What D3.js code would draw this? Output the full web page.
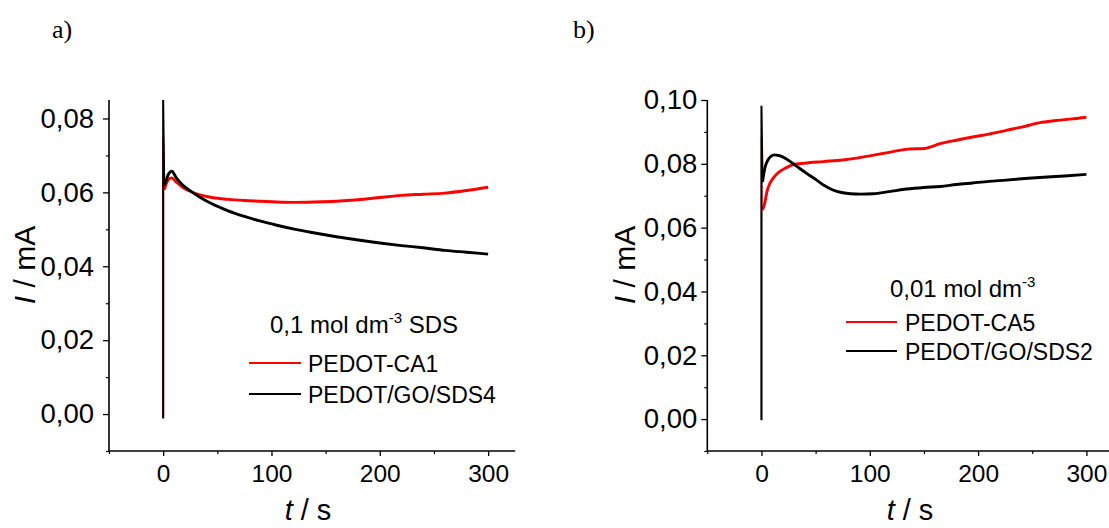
<!DOCTYPE html>
<html>
<head>
<meta charset="utf-8">
<script src="https://cdn.jsdelivr.net/npm/d3@7"></script>
<style>
  html, body { margin: 0; padding: 0; background: #fff; }
  svg { display: block; }
  text { fill: #000; }
</style>
</head>
<body>
<svg id="chart" width="1109" height="528"></svg>
<script>
// ---------- DATA ----------
// Panel a) 0,1 mol dm-3 SDS
const tA_red   = [0, 0, 1, 3, 5, 8, 12, 18, 25, 34, 45, 60, 75, 90, 105, 120, 140, 160, 180, 200, 220, 240, 260, 280, 300];
const iA_red   = [-0.0010, 0.0748, 0.0607, 0.0625, 0.0635, 0.0639, 0.0628, 0.0614, 0.0603, 0.0593, 0.0586, 0.0581, 0.0578, 0.0576, 0.0574, 0.0573, 0.0574, 0.0576, 0.0580, 0.0586, 0.0592, 0.0595, 0.0598, 0.0605, 0.0614];
const tA_black = [0, 0, 1, 3, 5, 8, 12, 18, 25, 34, 45, 60, 75, 90, 105, 120, 140, 160, 180, 200, 220, 240, 260, 280, 300];
const iA_black = [-0.0012, 0.0850, 0.0618, 0.0635, 0.0650, 0.0657, 0.0640, 0.0620, 0.0604, 0.0587, 0.0569, 0.0550, 0.0535, 0.0522, 0.0511, 0.0501, 0.0490, 0.0480, 0.0471, 0.0463, 0.0456, 0.0450, 0.0443, 0.0438, 0.0433];

// Panel b) 0,01 mol dm-3
const tB_red   = [0, 0, 1, 3, 5, 8, 12, 17, 23, 29, 40, 57, 75, 88, 100, 118, 135, 150, 165, 180, 195, 210, 226, 240, 257, 270, 285, 300];
const iB_red   = [0.0000, 0.0884, 0.0655, 0.0676, 0.0712, 0.0740, 0.0760, 0.0776, 0.0788, 0.0797, 0.0802, 0.0807, 0.0812, 0.0818, 0.0825, 0.0836, 0.0846, 0.0848, 0.0863, 0.0874, 0.0884, 0.0893, 0.0905, 0.0915, 0.0929, 0.0935, 0.0940, 0.0946];
const tB_black = [0, 0, 1, 3, 6, 9, 12, 16, 20, 27, 35, 43, 51, 58, 66, 74, 82, 92, 103, 118, 134, 150, 165, 180, 195, 210, 226, 240, 257, 280, 300];
const iB_black = [-0.0004, 0.0982, 0.0744, 0.0785, 0.0812, 0.0824, 0.0828, 0.0826, 0.0821, 0.0806, 0.0786, 0.0767, 0.0749, 0.0732, 0.0718, 0.0710, 0.0706, 0.0705, 0.0706, 0.0713, 0.0721, 0.0726, 0.0729, 0.0735, 0.0740, 0.0745, 0.0749, 0.0753, 0.0757, 0.0762, 0.0767];

const xMajorTicks = [0, 100, 200, 300];
const xMinorTicks = [-50, 50, 150, 250];
const yTicksA = [0.00, 0.02, 0.04, 0.06, 0.08];
const yMinorA = [-0.01, 0.01, 0.03, 0.05, 0.07];
const yTicksB = [0.00, 0.02, 0.04, 0.06, 0.08, 0.10];
const yMinorB = [-0.01, 0.01, 0.03, 0.05, 0.07, 0.09];

const panelLabels = ["a)", "b)"];
const legendTitleA = ["0,1 mol dm", "-3", " SDS"];
const legendTitleB = ["0,01 mol dm", "-3", ""];
const seriesNamesA = ["PEDOT-CA1", "PEDOT/GO/SDS4"];
const seriesNamesB = ["PEDOT-CA5", "PEDOT/GO/SDS2"];
const seriesColors = ["#ff0000", "#000000"];

// ---------- DRAW ----------
const SANS = "'Liberation Sans', Arial, sans-serif";
const SERIF = "'Liberation Serif', 'Times New Roman', serif";
const svg = d3.select("#chart");
const loc = d3.formatLocale({decimal: ",", thousands: ".", grouping: [3], currency: ["", ""]});
const fmtY = loc.format(".2f");

function zip(ts, is) { return ts.map((t, k) => ({t: t, v: is[k]})); }

function panel(cfg) {
  const x = d3.scaleLinear().domain([-50, 325]).range([cfg.left, cfg.left + 406.2]);
  const y = d3.scaleLinear().domain(cfg.yDomain).range([451, 100]);
  const g = svg.append("g").style("font-family", SANS);

  // x axis
  const xAxis = d3.axisBottom(x).tickValues(xMajorTicks).tickSize(5).tickPadding(9).tickFormat(d3.format("d"));
  const gx = g.append("g").attr("transform", "translate(0,451)").call(xAxis);
  gx.select(".domain").attr("d", `M${x.range()[0]},0H${x.range()[1]}`).attr("stroke", "#000").attr("stroke-width", 1.6);
  gx.selectAll(".tick line").attr("stroke", "#000").attr("stroke-width", 1.3);
  gx.selectAll(".tick text").style("font-size", "24.5px").style("font-family", SANS);
  const gxm = g.append("g").attr("transform", "translate(0,451)").call(d3.axisBottom(x).tickValues(xMinorTicks).tickSize(3).tickFormat(""));
  gxm.select(".domain").remove();
  gxm.selectAll(".tick line").attr("stroke", "#000").attr("stroke-width", 1.2);

  // y axis
  const yAxis = d3.axisLeft(y).tickValues(cfg.yTicks).tickSize(6).tickPadding(cfg.yPad).tickFormat(fmtY);
  const gy = g.append("g").attr("transform", `translate(${x(-50)},0)`).call(yAxis);
  gy.select(".domain").attr("d", "M0,451V100").attr("stroke", "#000").attr("stroke-width", 1.6);
  gy.selectAll(".tick line").attr("stroke", "#000").attr("stroke-width", 1.3);
  gy.selectAll(".tick text").style("font-size", "27.5px").style("font-family", SANS);
  const gym = g.append("g").attr("transform", `translate(${x(-50)},0)`).call(d3.axisLeft(y).tickValues(cfg.yMinor).tickSize(3).tickFormat(""));
  gym.select(".domain").remove();
  gym.selectAll(".tick line").attr("stroke", "#000").attr("stroke-width", 1.2);

  // series
  const spike = d3.line().x(d => x(d.t)).y(d => y(d.v)).curve(d3.curveLinear);
  const body = d3.line().x(d => x(d.t)).y(d => y(d.v)).curve(d3.curveMonotoneX);
  cfg.series.forEach((s, k) => {
    const pts = zip(s.t, s.v);
    g.append("path").attr("d", spike(pts.slice(0, 3))).attr("fill", "none")
      .attr("stroke", s.spikeColor).attr("stroke-width", 2);
    g.append("path").attr("d", body(pts.slice(2))).attr("fill", "none")
      .attr("stroke", seriesColors[k]).attr("stroke-width", 2.9).attr("stroke-linejoin", "round");
  });

  // axis titles
  const yl = g.append("text").attr("transform", `translate(${cfg.yLabelX},265) rotate(-90)`)
    .attr("text-anchor", "middle").style("font-size", "30px");
  yl.append("tspan").attr("font-style", "italic").text("I");
  yl.append("tspan").text(" / mA");
  const xl = g.append("text").attr("x", cfg.xLabelX).attr("y", 520)
    .attr("text-anchor", "middle").style("font-size", "29px");
  xl.append("tspan").attr("font-style", "italic").text("t");
  xl.append("tspan").text(" / s");

  // panel label
  g.append("text").attr("x", cfg.panelX).attr("y", 38).style("font-size", "26px")
    .style("font-family", SERIF).text(cfg.panelLabel);

  // legend
  const lt = g.append("text").attr("x", cfg.legTitleX).attr("y", cfg.legTitleY).style("font-size", "24px");
  lt.append("tspan").text(cfg.legTitle[0]);
  lt.append("tspan").attr("dy", -10).style("font-size", "15px").text(cfg.legTitle[1]);
  if (cfg.legTitle[2]) lt.append("tspan").attr("dy", 10).text(cfg.legTitle[2]);
  cfg.names.forEach((n, k) => {
    const yy = cfg.legY[k];
    g.append("line").attr("x1", cfg.legLineX[0]).attr("x2", cfg.legLineX[1]).attr("y1", yy).attr("y2", yy)
      .attr("stroke", seriesColors[k]).attr("stroke-width", 2.2);
    g.append("text").attr("x", cfg.legTextX).attr("y", yy + 8.5).style("font-size", "23px").text(n);
  });
}

panel({
  left: 109, yDomain: [-0.01, 0.085], yTicks: yTicksA, yMinor: yMinorA, yPad: 9,
  yLabelX: 35, xLabelX: 308, panelX: 52, panelLabel: panelLabels[0],
  series: [
    {t: tA_red, v: iA_red, spikeColor: "#ff0000"},
    {t: tA_black, v: iA_black, spikeColor: "#000000"}
  ],
  legTitle: legendTitleA, legTitleX: 270, legTitleY: 333,
  names: seriesNamesA, legY: [363, 394], legLineX: [249, 301], legTextX: 308
});

panel({
  left: 707.3, yDomain: [-0.01, 0.10], yTicks: yTicksB, yMinor: yMinorB, yPad: 4,
  yLabelX: 635, xLabelX: 910, panelX: 573, panelLabel: panelLabels[1],
  series: [
    {t: tB_red, v: iB_red, spikeColor: "#e8a0a0"},
    {t: tB_black, v: iB_black, spikeColor: "#000000"}
  ],
  legTitle: legendTitleB, legTitleX: 890, legTitleY: 297,
  names: seriesNamesB, legY: [322, 351], legLineX: [846, 897], legTextX: 905
});
</script>
</body>
</html>
